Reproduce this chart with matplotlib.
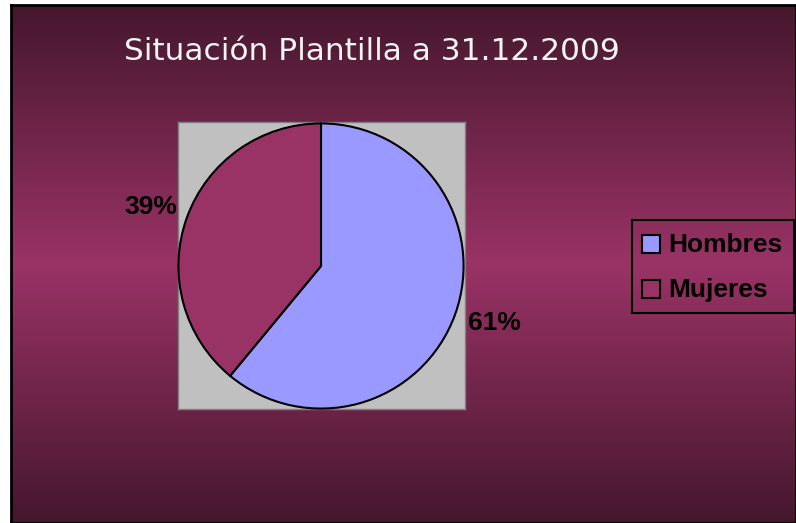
import numpy as np
import matplotlib.pyplot as plt
from matplotlib.patches import Rectangle

labels = ['Hombres', 'Mujeres']
values = [61, 39]
colors = ['#9999FF', '#993366']
title = 'Situación Plantilla a 31.12.2009'

W, H = 796, 523
fig = plt.figure(figsize=(W / 100, H / 100), dpi=100)
fig.patch.set_facecolor('white')

# background with vertical gradient (dark - magenta - dark)
bx0 = 11 / W
bg = fig.add_axes([bx0, 0, 1 - bx0, (H - 5) / H])
top = np.array([0x45, 0x17, 0x2d]) / 255
mid = np.array([0x9a, 0x33, 0x66]) / 255
t = np.linspace(0, 1, 256)
w = 1 - np.abs(t - 0.5) * 2
grad = top[None, :] * (1 - w[:, None]) + mid[None, :] * w[:, None]
bg.imshow(grad[:, None, :], aspect='auto', extent=[0, 1, 0, 1])
bg.set_xlim(0, 1)
bg.set_ylim(0, 1)
bg.set_xticks([])
bg.set_yticks([])
for s in bg.spines.values():
    s.set_linewidth(2)
    s.set_color('black')

# gray plot area
px0, py0, px1, py1 = 178, 122, 465, 409
area = fig.add_axes([px0 / W, 1 - py1 / H, (px1 - px0) / W, (py1 - py0) / H])
area.set_facecolor('#C0C0C0')
area.set_xticks([])
area.set_yticks([])
for s in area.spines.values():
    s.set_color('#808080')
    s.set_linewidth(1)

cx, cy, r = 321, 266, 144
ax = fig.add_axes([(cx - r) / W, 1 - (cy + r) / H, 2 * r / W, 2 * r / H])
ax.set_axis_off()
ax.pie(values, colors=colors, startangle=90, counterclock=False,
       wedgeprops=dict(edgecolor='black', linewidth=1.5))
ax.set_xlim(-1.01, 1.01)
ax.set_ylim(-1.01, 1.01)

fnt = dict(family='Liberation Sans', fontweight='bold', color='black', fontsize=19)
fig.text(151 / W, 1 - 207 / H, '%d%%' % values[1], ha='center', va='center', **fnt)
fig.text(494 / W, 1 - 323 / H, '%d%%' % values[0], ha='center', va='center', **fnt)

fig.text(372 / W, 1 - 52 / H, title, ha='center', va='center',
         fontsize=22.5, color='#f4f4f4', family='DejaVu Sans')

# legend box
lx0, ly0, lx1, ly1 = 632, 220, 794, 313
fig.patches.append(Rectangle((lx0 / W, 1 - ly1 / H), (lx1 - lx0) / W, (ly1 - ly0) / H,
                             transform=fig.transFigure, facecolor='none',
                             edgecolor='black', linewidth=1.5))
for i, lab in enumerate(labels):
    yy = 244 + i * 45
    fig.patches.append(Rectangle((642 / W, 1 - (yy + 9) / H), 18 / W, 18 / H,
                                 transform=fig.transFigure, facecolor=colors[i],
                                 edgecolor='black', linewidth=1.5))
    fig.text(668 / W, 1 - (yy + 1) / H, lab, ha='left', va='center',
             family='Liberation Sans', fontweight='bold', fontsize=19, color='black')

fig.savefig('out.png', dpi=100)
